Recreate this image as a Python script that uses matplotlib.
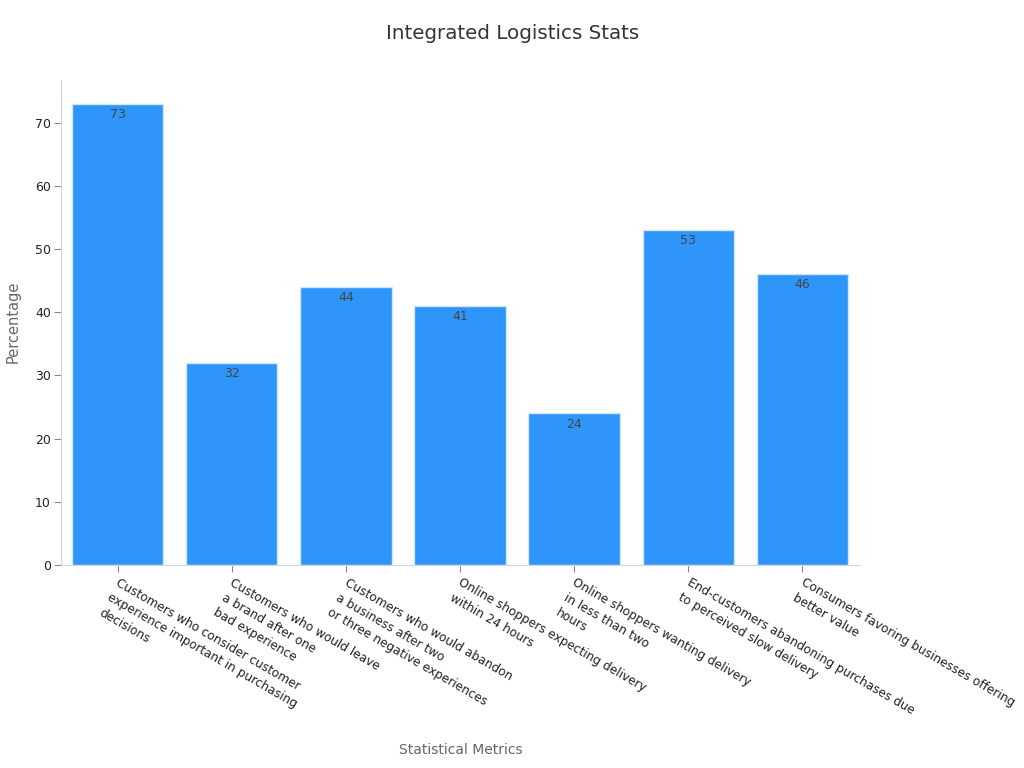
import matplotlib
matplotlib.use("Agg")
import matplotlib.pyplot as plt
from matplotlib.transforms import ScaledTranslation

# values
categories = [
    "Customers who consider customer\nexperience important in purchasing\ndecisions",
    "Customers who would leave\na brand after one\nbad experience",
    "Customers who would abandon\na business after two\nor three negative experiences",
    "Online shoppers expecting delivery\nwithin 24 hours",
    "Online shoppers wanting delivery\nin less than two\nhours",
    "End-customers abandoning purchases due\nto perceived slow delivery",
    "Consumers favoring businesses offering\nbetter value",
]
values = [73, 32, 44, 41, 24, 53, 46]
y_ticks = [0, 10, 20, 30, 40, 50, 60, 70]

plt.rcParams["font.family"] = "DejaVu Sans"

fig = plt.figure(figsize=(10.24, 7.68), dpi=100)
ax = fig.add_axes([60.5 / 1024, 1 - 565 / 768, 799 / 1024, (565 - 80) / 768])

x = list(range(len(values)))
bars = ax.bar(x, values, width=0.8, color="#2E96FA", edgecolor="#CFE6FB", linewidth=1)

ax.set_xlim(-0.5, 6.5)
ax.set_ylim(0, 76.75)
ax.set_yticks(y_ticks)
ax.set_xticks(x)
ax.set_xticklabels(categories, rotation=-30, ha="left", va="top", rotation_mode="anchor",
                   fontsize=8.7, color="#222222", linespacing=1.42)
ax.tick_params(axis="y", labelsize=9, labelcolor="#222222", color="#888888", length=5, width=0.8, pad=2)
ax.tick_params(axis="x", color="#888888", length=5, width=0.8, pad=3)

# nudge the slanted labels right, they start a little past the tick
nudge = ScaledTranslation(2 / 72, 0, fig.dpi_scale_trans)
for lab in ax.get_xticklabels():
    lab.set_transform(lab.get_transform() + nudge)

for s in ["top", "right"]:
    ax.spines[s].set_visible(False)
for s in ["left", "bottom"]:
    ax.spines[s].set_color("#D5D5D5")

for b, v in zip(bars, values):
    ax.annotate(str(v), (b.get_x() + b.get_width() / 2, v), xytext=(0, -3), textcoords="offset points",
                ha="center", va="top", fontsize=9, color="#444444")

fig.text(512.5 / 1024, 1 - 33.5 / 768, "Integrated Logistics Stats", ha="center", va="center", fontsize=14.3, color="#333333")
fig.text(13 / 1024, 1 - 322 / 768, "Percentage", rotation=90, ha="center", va="center", fontsize=10.5, color="#666666")
fig.text(461 / 1024, 1 - 750 / 768, "Statistical Metrics", ha="center", va="center", fontsize=10, color="#666666")

fig.savefig("out.png", dpi=100)
